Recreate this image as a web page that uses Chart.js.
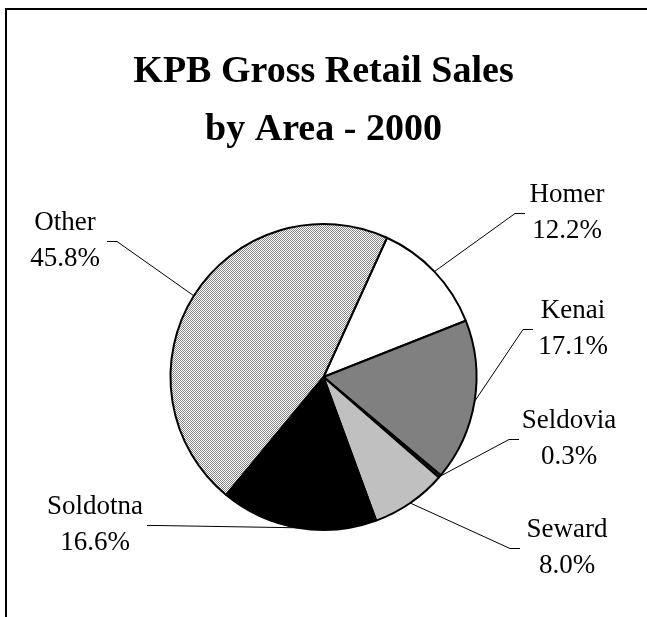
<!DOCTYPE html>
<html>
<head>
<meta charset="utf-8">
<title>KPB Gross Retail Sales by Area - 2000</title>
<script src="https://cdn.jsdelivr.net/npm/chart.js@4.4.1/dist/chart.umd.min.js"></script>
<style>
  html, body { margin: 0; padding: 0; background: #fff; overflow: hidden; }
  #wrap { position: relative; width: 647px; height: 617px; }
</style>
</head>
<body>
<div id="wrap"><canvas id="myChart"></canvas></div>
<script>
// sales share by area, percent of borough total
const areas = [ 'Homer', 'Kenai', 'Seldovia', 'Seward', 'Soldotna', 'Other' ];
const shares = [ 12.2, 17.1, 0.3, 8.0, 16.6, 45.8 ];

// where each label sits: text centre (x, y) and the elbow of its leader line
const labelSpots = [
  { x: 567, y: 213, ex: 515, side: 1 },
  { x: 573, y: 329, ex: 523, side: 1 },
  { x: 569, y: 439, ex: 509, side: 1 },
  { x: 567, y: 548, ex: 510, side: 1 },
  { x: 95, y: 525, ex: 157, side: -1 },
  { x: 65, y: 241, ex: 117, side: -1 }
];

// fine grey/white dither for the "Other" slice
function ditherPattern() {
  const c = document.createElement( 'canvas' );
  c.width = 2; c.height = 2;
  const g = c.getContext( '2d' );
  g.fillStyle = '#ffffff';
  g.fillRect( 0, 0, 2, 2 );
  g.fillStyle = '#8a8a8a';
  g.fillRect( 0, 0, 1, 1 );
  g.fillRect( 1, 1, 1, 1 );
  return g.createPattern( c, 'repeat' );
}

const backgroundColor = [ '#ffffff', '#808080', '#303030', '#c0c0c0', '#000000', ditherPattern() ];

// left and top frame lines
const frame = {
  id: 'frame',
  beforeDraw( chart ) {
    const ctx = chart.ctx;
    ctx.save();
    ctx.strokeStyle = '#000';
    ctx.lineWidth = 2;
    ctx.beginPath();
    ctx.moveTo( 6, chart.height );
    ctx.lineTo( 6, 9 );
    ctx.lineTo( chart.width, 9 );
    ctx.stroke();
    ctx.restore();
  }
};

// two-line labels with leader lines out to the middle of each slice's rim
const sliceLabels = {
  id: 'sliceLabels',
  afterDraw( chart ) {
    const ctx = chart.ctx;
    const arcs = chart.getDatasetMeta( 0 ).data;
    ctx.save();
    ctx.font = '27px "Liberation Serif", "Times New Roman", serif';
    ctx.textAlign = 'center';
    ctx.textBaseline = 'middle';
    ctx.fillStyle = '#000';
    ctx.strokeStyle = '#000';
    ctx.lineWidth = 1;
    arcs.forEach( ( arc, i ) => {
      const spot = labelSpots[ i ];
      const mid = ( arc.startAngle + arc.endAngle ) / 2;
      const r = arc.outerRadius;
      const px = arc.x + Math.cos( mid ) * r;
      const py = arc.y + Math.sin( mid ) * r;
      ctx.beginPath();
      ctx.moveTo( px, py );
      ctx.lineTo( spot.ex, spot.y + 0.5 );
      ctx.lineTo( spot.ex + spot.side * 10, spot.y + 0.5 );
      ctx.stroke();
      ctx.fillText( areas[ i ], spot.x, spot.y - 18 );
      ctx.fillText( shares[ i ].toFixed( 1 ) + '%', spot.x, spot.y + 18 );
    } );
    ctx.restore();
  }
};

Chart.defaults.font.family = '"Liberation Serif", "Times New Roman", serif';
Chart.defaults.color = '#000';

const ctx = document.getElementById( 'myChart' ).getContext( '2d' );
const myChart = new Chart( ctx, {
  type: 'pie',
  data: {
    labels: areas,
    datasets: [ {
      data: shares,
      backgroundColor,
      borderColor: '#000',
      borderWidth: 2
    } ]
  },
  options: {
    responsive: true,
    maintainAspectRatio: false,
    animation: false,
    rotation: 24.5,
    layout: { padding: { top: 0, bottom: 86, left: 0, right: 0 } },
    plugins: {
      legend: { display: false },
      tooltip: { enabled: false },
      title: {
        display: true,
        text: [ 'KPB Gross Retail Sales', 'by Area - 2000' ],
        color: '#000',
        font: { size: 38, weight: 'bold', lineHeight: 1.526 },
        padding: { top: 43, bottom: 64 }
      }
    }
  },
  plugins: [ frame, sliceLabels ]
} );
</script>
</body>
</html>
